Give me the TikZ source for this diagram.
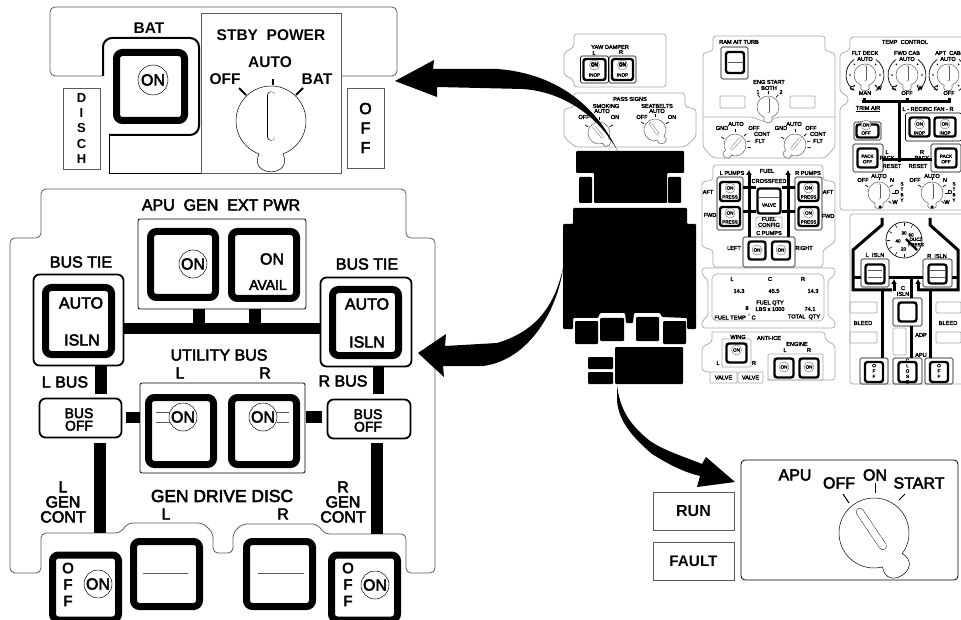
\documentclass[tikz,border=0pt]{standalone}
\usepackage{fontspec}
\setmainfont{Liberation Sans}
\newfontfamily\seminegra{Liberation Sans}[FakeBold=3]
\usetikzlibrary{arrows.meta}
\definecolor{grisPanel}{HTML}{A8A8A8}
\definecolor{grisLinea}{HTML}{5A5A5A}
\colorlet{colNegro}{black}
\newcommand{\perilla}[5][colNegro]{%
  \begin{scope}[shift={(#2,#3)},x=1pt,y=1pt,rotate=#5-90]
    \pgfmathsetmacro{\anchoP}{0.2*#4}
    \draw[#1,line width=0.5pt,fill=white] (-70:#4) arc[start angle=-70,end angle=250,radius=#4]
      .. controls (-112:{1.75*#4}) and (-68:{1.75*#4}) .. cycle;
    \draw[#1,line width=\anchoP pt+0.8pt,line cap=round] (0,{0.73*#4}) -- (0,{-0.45*#4});
    \draw[white,line width=\anchoP pt,line cap=round] (0,{0.73*#4}) -- (0,{-0.45*#4});
  \end{scope}}
\newcommand{\perillaTemp}[2]{%
  \perilla[grisLinea]{#1}{#2}{11}{90}
  \begin{scope}[shift={(#1,#2)},x=1pt,y=1pt]
    \draw[line width=0.7pt] (125:19) arc[start angle=125,end angle=235,radius=19];
    \draw[line width=0.7pt] (55:19) arc[start angle=55,end angle=-55,radius=19];
    \foreach \a in {45,0,-45,135,180,225}{\fill (\a:15) circle (0.9);}
  \end{scope}}
\newcommand{\marcasPerilla}[3]{%
  \begin{scope}[shift={(#1,#2)},x=1pt,y=1pt]
    \foreach \a in {#3}{\draw[line width=0.7pt] (\a:12.5) -- (\a:16);}
  \end{scope}}
\tikzset{
  x=1pt, y=-1pt,
  rotulo/.style={inner sep=0pt, align=center, font=\fontsize{16}{15}\selectfont\seminegra},
  rotuloNegro/.style={inner sep=0pt, align=center, font=\fontsize{15.5}{15}\selectfont\bfseries},
  rotuloChico/.style={inner sep=0pt, align=center, font=\fontsize{5.6}{5.8}\selectfont\seminegra},
  rotuloMini/.style={inner sep=0pt, align=center, font=\fontsize{4.6}{5.4}\selectfont\seminegra},
  tam/.style 2 args={minimum width=#1pt, minimum height=#2pt},
  botonOn/.style={circle, draw, line width=0.5pt, fill=white, inner sep=0pt, minimum size=28pt,
    font=\fontsize{16}{16}\selectfont\seminegra},
  botonChico/.style={circle, draw=grisLinea, line width=0.35pt, fill=white, inner sep=0pt, minimum size=10pt,
    font=\fontsize{4.6}{5}\selectfont\seminegra},
  teclaGrande/.style={draw, line width=7pt, rounded corners=6pt, fill=white, inner sep=0pt},
  teclaChica/.style={draw, line width=2.4pt, rounded corners=2.5pt, fill=white, inner sep=0pt},
  cajaTecla/.style={draw, line width=1.8pt, rounded corners=6pt, fill=white, inner sep=0pt},
  cajaFina/.style={draw, line width=0.8pt, rounded corners=2pt, fill=white, inner sep=0pt},
  cajaChica/.style={draw, line width=0.6pt, rounded corners=1.5pt, fill=white, inner sep=0pt},
  cajaGris/.style={draw=grisPanel, line width=0.7pt, rounded corners=1pt, inner sep=0pt},
  perfil/.style={draw=grisLinea, line width=0.8pt, rounded corners=5pt},
  perfilGris/.style={draw=grisPanel, line width=0.7pt, rounded corners=3pt},
  barra/.style={line width=#1pt},
  barra/.default=11.5,
  ducto/.style={line width=3pt},
  flechaFuel/.style={-{Latex[length=5pt,width=6pt]}, line width=3pt},
  flechaGorda/.style={fill=black},
  marca/.style={line width=1.8pt},
  rayita/.style={draw=grisLinea, line width=0.5pt},
}
\begin{document}
\begin{tikzpicture}
  \useasboundingbox (0,0) rectangle (961,620);

  \draw[perfil] (102,76) -- (50,76) -- (50,7) -- (397,7) -- (397,76) -- (341,76);
  \draw[line width=0.8pt] (109,135) -- (109,173) -- (201,173);
  \node[draw=grisLinea, line width=0.8pt, fill=white, tam={140}{160}] (cajaStby) at (271,93) {};
  \draw[line width=2pt, rounded corners=9pt] (103,76) -- (103,38) -- (199,38) -- (199,135) -- (109,135);
  \node[teclaGrande, tam={68}{68}] (teclaBat) at (150.5,86.5) {};
  \node[botonOn, minimum size=30pt] (onBat) at (153,80) {ON};
  \node[draw=grisLinea, line width=0.8pt, tam={37}{81}, inner sep=0pt, align=center,
    font=\fontsize{13}{15.2}\selectfont\bfseries] (cajaDisch) at (81.5,128.5) {D\\I\\S\\C\\H};
  \node[draw=grisLinea, line width=0.8pt, tam={37}{80}, inner sep=0pt, align=center,
    font=\fontsize{16}{19.5}\selectfont\seminegra] (cajaOff) at (365.5,128) {O\\F\\F};
  \foreach \n/\x/\y/\t in {rBat/149/28/BAT, rStby/271/35/{STBY\ \ POWER}, rAuto/270/62/AUTO, rOff/225/79/OFF, rBatDos/317/79/BAT}{
    \node[rotuloNegro] (\n) at (\x,\y) {\t};}
  \coordinate (m1a) at (239,88); \coordinate (m1b) at (246,95);
  \coordinate (m2a) at (273,79); \coordinate (m2b) at (273,85);
  \coordinate (m3a) at (303,88); \coordinate (m3b) at (296,95);
  \draw[marca] (m1a) -- (m1b);
  \draw[marca] (m2a) -- (m2b);
  \draw[marca] (m3a) -- (m3b);
  \perilla{271}{121}{35}{90}

  \draw[perfil] (35,573) -- (10,573) -- (10,238) -- (41,238) -- (41,189) -- (406,189) -- (406,238) -- (435,238)
    -- (435,573) -- (406,573) -- (406,534) -- (325,534) -- (317,524) -- (242,524) -- (233,533) -- (233,553)
    -- (213,553) -- (213,533) -- (203,523) -- (128,523) -- (120,533) -- (41,533) -- (41,573) -- (35,573);

  \node[cajaFina, tam={168}{90}] (cajaApu) at (222,264) {};
  \node[teclaGrande, tam={65}{66}] (teclaApu) at (183,264.5) {};
  \node[teclaGrande, tam={65}{67}] (teclaExt) at (264,265) {};
  \node[botonOn] (onApu) at (193,264) {ON};
  \node[cajaTecla, tam={90}{91}] (cajaTieL) at (78.5,320) {};
  \node[cajaTecla, tam={91}{89}] (cajaTieR) at (366,322) {};
  \node[teclaGrande, tam={66}{67}] (teclaTieL) at (78.5,321) {};
  \node[teclaGrande, tam={66}{66}] (teclaTieR) at (365.5,322.5) {};
  \node[cajaTecla, tam={82}{39}] (busOffL) at (80.5,418) {};
  \node[cajaTecla, tam={83}{39}] (busOffR) at (369,419) {};
  \node[cajaFina, tam={165}{90}] (cajaUtil) at (222.5,428) {};
  \node[teclaGrande, tam={65}{67}] (teclaUtilL) at (181,431) {};
  \node[teclaGrande, tam={65}{67}] (teclaUtilR) at (264,431) {};
  \foreach \n/\x in {rayaUa/412, rayaUb/422}{
    \coordinate (\n L) at (156,\x); \coordinate (\n Lf) at (170,\x);
    \coordinate (\n R) at (277,\x); \coordinate (\n Rf) at (289,\x);
    \draw[rayita] (\n L) -- (\n Lf);
    \draw[rayita] (\n R) -- (\n Rf);}
  \node[botonOn] (onUtilL) at (183,417) {ON};
  \node[botonOn] (onUtilR) at (263,417) {ON};
  \node[teclaGrande, tam={66}{65}] (teclaCtlL) at (85.5,587.5) {};
  \node[teclaGrande, tam={66}{65}] (teclaDiscL) at (166.5,574) {};
  \node[teclaGrande, tam={66}{65}] (teclaDiscR) at (279.5,574) {};
  \node[teclaGrande, tam={66}{65}] (teclaCtlR) at (364.5,587.5) {};
  \foreach \n/\a/\b in {rayaDl/143/188, rayaDr/258/304}{
    \coordinate (\n a) at (\a,573); \coordinate (\n b) at (\b,573);
    \draw[rayita] (\n a) -- (\n b);}
  \node[botonOn] (onCtlL) at (98,584) {ON};
  \node[botonOn] (onCtlR) at (375,585) {ON};

  \foreach \n/\x/\y in {bTieL/124/328.5, bTieR/320/328.5, sA/199/309, sAf/199/323, sB/255/309, sBf/255/323,
      sC/101/366, sCf/101/394, sD/378.5/367, sDf/378.5/394, sE/100/443, sEf/100/533, sF/377/443, sFf/377/534,
      sG/126/417.5, sGf/140/417.5, sH/306/417, sHf/322/417}{
    \coordinate (\n) at (\x,\y);}
  \draw[barra] (bTieL) -- (bTieR);
  \draw[barra] (sA) -- (sAf);
  \draw[barra] (sB) -- (sBf);
  \draw[barra] (sC) -- (sCf);
  \draw[barra] (sD) -- (sDf);
  \draw[barra] (sE) -- (sEf);
  \draw[barra] (sF) -- (sFf);
  \draw[barra] (sG) -- (sGf);
  \draw[barra] (sH) -- (sHf);

  \foreach \n/\x/\y/\t in {rApu/221/205/{APU\ \ GEN\ \ EXT PWR}, rTieL/81/262/{BUS TIE}, rTieR/367/264/{BUS TIE},
      rAutoL/81/303/AUTO, rIslnL/82/340/ISLN, rAutoR/367/304/AUTO, rIslnR/367/342/ISLN, rOnExt/272/259/ON,
      rUtil/219/355/{UTILITY BUS}, rUl/180/373/L, rUr/265/373/R, rBusL/65/382/{L BUS}, rBusR/343/381/{R BUS},
      rGenL/63/502/{L\\GEN\\CONT}, rGenR/343/502/{R\\GEN\\CONT}, rDl/166/514/L, rDr/283/514/R}{
    \node[rotulo] (\n) at (\x,\y) {\t};}
  \node[rotulo, font=\fontsize{17.4}{15}\selectfont\seminegra] (rDrive) at (222,496) {GEN DRIVE DISC};
  \foreach \n/\x/\y/\t in {rAvail/268/285/AVAIL, rOffL/79/419.5/{BUS\\OFF}, rOffR/368/420.5/{BUS\\OFF}}{
    \node[rotulo, font=\fontsize{14}{12.5}\selectfont\seminegra] (\n) at (\x,\y) {\t};}
  \foreach \n/\x/\y in {rOfL/68/584.5, rOfR/348/584.5}{
    \node[rotulo, font=\fontsize{15}{16.5}\selectfont\seminegra] (\n) at (\x,\y) {O\\F\\F};}

  \node[draw, line width=0.8pt, rounded corners=4pt, tam={217}{120}] (cajaApuStart) at (849.5,520) {};
  \node[draw=grisLinea, line width=0.8pt, tam={81}{38}, inner sep=0pt, font=\fontsize{16}{16}\selectfont\bfseries] (cajaRun) at (693.5,511) {RUN};
  \node[draw=grisLinea, line width=0.8pt, tam={81}{38}, inner sep=0pt, font=\fontsize{15.3}{16}\selectfont\bfseries] (cajaFault) at (693.5,561) {FAULT};
  \foreach \n/\x/\y/\t in {rApuS/795/475/APU, rOffS/839/483/OFF, rOnS/875/475/ON, rStart/919/483/START}{
    \node[rotulo] (\n) at (\x,\y) {\t};}
  \coordinate (m4a) at (843,494); \coordinate (m4b) at (849,503);
  \coordinate (m5a) at (875,483); \coordinate (m5b) at (875,493);
  \coordinate (m6a) at (905,494); \coordinate (m6b) at (899,500);
  \draw[line width=1pt] (m4a) -- (m4b);
  \draw[line width=1pt] (m5a) -- (m5b);
  \draw[line width=1pt] (m6a) -- (m6b);
  \perilla{874}{533}{35}{124}

  \begin{scope}[rounded corners=1pt]
    \fill (576,151) -- (684,151) -- (684,173) -- (667,173) -- (667,203) -- (594,203) -- (594,173) -- (576,173) -- cycle;
    \fill (579,177) rectangle (592,203);
    \fill (668,177) rectangle (681,203);
    \fill (573,208) -- (687,208) -- (687,224) -- (696,224) -- (696,329) -- (687,329) -- (687,318) -- (662,317) -- (660,313)
      -- (634,313) -- (633,323) -- (626,323) -- (625,313) -- (600,313) -- (598,318) -- (573,318) -- (573,329) -- (563,329)
      -- (563,224) -- (573,224) -- cycle;
    \fill (575,321) rectangle (598,344);
    \fill (600,318) rectangle (624,341);
    \fill (636,317) rectangle (659,341);
    \fill (663,321) rectangle (686,344);
    \fill (615,347) rectangle (683,384);
    \fill (588,357) rectangle (613,369);
    \fill (588,372) rectangle (613,384);
  \end{scope}

  \draw[perfilGris] (574,34) -- (666,34) -- (666,87) -- (574,87) -- (574,80) -- (564,75) -- (564,53) -- (574,47) -- cycle;
  \draw[perfilGris] (574,93) -- (685,93) -- (685,107) -- (696,109) -- (696,137) -- (685,147) -- (575,147) -- (564,137) -- (564,109) -- (574,107) -- cycle;
  \draw[perfilGris] (713,36) -- (825,36) -- (825,51) -- (835,53) -- (835,147) -- (825,158) -- (713,158) -- (703,147) -- (703,53) -- (713,51) -- cycle;
  \draw[perfilGris] (703,117) -- (752,117) -- (765,122) -- (778,117) -- (835,117);
  \draw[perfilGris] (713,165) -- (823,165) -- (823,180) -- (835,182) -- (835,242) -- (823,250) -- (823,267) -- (713,267) -- (713,250) -- (702,247) -- (702,182) -- (713,180) -- cycle;
  \draw[perfilGris] (702,268) -- (835,268) -- (835,275) -- (828,280) -- (828,316) -- (835,321) -- (835,328) -- (702,328) -- (702,321) -- (708,316) -- (708,280) -- (702,275) -- cycle;
  \draw[perfilGris] (712,332) -- (825,332) -- (825,340) -- (835,345) -- (835,380) -- (767,380);
  \draw[perfilGris] (712,332) -- (712,342) -- (702,347) -- (702,371) -- (710,372);
  \draw[perfilGris] (961,37) -- (850,37) -- (850,50) -- (840,54) -- (840,92) -- (848,96) -- (848,103) -- (840,107) -- (840,210) -- (961,210);
  \draw[perfilGris] (961,214) -- (850,214) -- (850,384) -- (961,384);

  \node[cajaGris, tam={25}{12}] (gRamL) at (732.5,102) {};
  \node[cajaGris, tam={25}{12}] (gRamR) at (802.5,102) {};
  \node[cajaGris, tam={26}{11}] (gFuel) at (769,222.5) {};
  \node[cajaGris, tam={112}{47}, rounded corners=5pt] (gQty) at (768,297.5) {};
  \node[cajaGris, tam={29}{28}] (gWing) at (736.5,353) {};
  \node[cajaGris, tam={55}{26}] (gEng) at (795.5,367) {};
  \node[cajaGris, tam={27}{11}] (gValL) at (723.5,377.5) {};
  \node[cajaGris, tam={25}{11}] (gValR) at (750.5,377.5) {};
  \node[cajaGris, tam={27}{11}] (gBlA) at (863.5,307.5) {};
  \node[cajaGris, tam={27}{11}] (gBlB) at (863.5,337.5) {};
  \node[cajaGris, tam={25}{11}] (gBlC) at (948.5,307.5) {};
  \node[cajaGris, tam={25}{11}] (gBlD) at (948.5,337.5) {};
  \node[cajaGris, tam={13}{27}] (gAdp) at (899.5,341.5) {};

  \foreach \n/\x/\y/\w/\h in {cYawL/594.5/69.5/28/27, cYawR/622.5/69.5/27/27, cRam/734.5/63/27/32, cPumpL/730/203.5/26/53,
      cPumpR/808.5/203.5/27/53, cCp/769/252/52/30, cTrim/867.5/131/27/18, cRec/933.5/127/56/28, cPackL/868/158/30/28,
      cPackR/946/158/30/28, cIsL/875/273/28/28, cIsR/937.5/273/29/28, cIsC/907.5/312/29/28, cBlL/874/371/28/26,
      cBlC/907.5/371/29/26, cBlR/939/371/28/26}{
    \node[cajaChica, tam={\w}{\h}] (\n) at (\x,\y) {};}
  \foreach \n/\x/\y/\w/\h in {tYawL/594.5/69.5/22/21, tYawR/622.5/69.5/21/21, tRam/735/62.5/18/21, tPumpLa/730/191.5/20/19,
      tPumpLb/730/216.5/20/19, tPumpRa/808.5/191.5/20/19, tPumpRb/808.5/216.5/20/19, tValve/769/201/23/25,
      tCpL/757/250.5/17/18, tCpR/781/250.5/18/18, tWing/736.5/353/20/19, tEngL/784/368/19/19, tEngR/809/368/19/19,
      tTrim/867.5/131/22/13, tRecL/919.5/127/20/19, tRecR/945/127/21/19, tPackL/867.5/158/20/19, tPackR/946/158/21/19,
      tIsL/875/274/19/19, tIsR/937.5/274/18/19, tIsC/907.5/312/18/19, tBlL/874/372/18/20, tBlC/907.5/372/18/20, tBlR/939/372/18/20}{
    \node[teclaChica, tam={\w}{\h}] (\n) at (\x,\y) {};}
  \foreach \n/\a/\b/\y in {rRam/728/743/62, rVal/759/779/197, rIsL/868/882/270, rIsLb/868/882/277, rIsR/930/945/270, rIsRb/930/945/277}{
    \coordinate (\n a) at (\a,\y); \coordinate (\n b) at (\b,\y);
    \draw[rayita] (\n a) -- (\n b);}

  \foreach \n/\x/\y in {bFa/749/237, bFb/749/170, bFc/788/237, bFd/788/170, bFe/743/188, bFf/756/188, bFg/743/212, bFh/756/212,
      bFi/782/188, bFj/795/188, bFk/782/212, bFl/795/212, dTa/862/102, dTb/951/102, dTc/899/102, dTd/899/162, dTe/882/160, dTf/932/160,
      dTg/864/98, dTh/864/102, dTi/907/98, dTj/907/102, dTk/949/98, dTl/949/102,
      dBa/882/218, dBb/930/218, dBc/892/290, dBd/918/290, dBe/889/278, dBf/923/278, dBg/853/278, dBh/861/278, dBi/952/278, dBj/958/278,
      dBk/882/291, dBl/882/358, dBm/930/291, dBn/930/358, dBo/911/278, dBp/911/298, dBq/911/326, dBr/911/358,
      dBs/894/291, dBt/894/279, dBu/918/291, dBv/918/279}{
    \coordinate (\n) at (\x,\y);}
  \draw[flechaFuel] (bFa) -- (bFb);
  \draw[flechaFuel] (bFc) -- (bFd);
  \draw[ducto] (bFe) -- (bFf);
  \draw[ducto] (bFg) -- (bFh);
  \draw[ducto] (bFi) -- (bFj);
  \draw[ducto] (bFk) -- (bFl);
  \draw[ducto] (dTa) -- (dTb);
  \draw[ducto] (dTc) -- (dTd);
  \draw[ducto] (dTe) -- (dTf);
  \draw[ducto] (dTg) -- (dTh);
  \draw[ducto] (dTi) -- (dTj);
  \draw[ducto] (dTk) -- (dTl);
  \draw[ducto] (dBa) -- ++(0,7) -- (853,250) -- (853,290) -- (dBc);
  \draw[ducto] (dBb) -- ++(0,7) -- (958,250) -- (958,290) -- (dBd);
  \draw[ducto] (dBe) -- (dBf);
  \draw[ducto] (dBg) -- (dBh);
  \draw[ducto] (dBi) -- (dBj);
  \draw[ducto] (dBk) -- (dBl);
  \draw[ducto] (dBm) -- (dBn);
  \draw[ducto] (dBo) -- (dBp);
  \draw[ducto] (dBq) -- (dBr);
  \draw[flechaFuel] (dBs) -- (dBt);
  \draw[flechaFuel] (dBu) -- (dBv);

  \foreach \n/\x/\y in {oYawL/594.5/65, oYawR/622.5/65, oPa/730/188, oPb/730/213, oPc/808.5/188, oPd/808.5/213, oCpL/757/250, oCpR/781/250,
      oWing/736.5/350, oEngL/784/367, oEngR/809/367, oTrim/866/125, oRecL/919.5/124, oRecR/945/124}{
    \node[botonChico] (\n) at (\x,\y) {ON};}

  \perilla[grisLinea]{599}{133}{11}{130}
  \perilla[grisLinea]{655}{130}{11}{125}
  \perilla[grisLinea]{768}{107}{11}{90}
  \perilla[grisLinea]{735}{145}{11}{50}
  \perilla[grisLinea]{795}{145}{11}{50}
  \marcasPerilla{599}{133}{150,90,30}
  \marcasPerilla{655}{130}{150,90,30}
  \marcasPerilla{768}{107}{130,90,50}
  \marcasPerilla{735}{145}{150,90,45,15,-10}
  \marcasPerilla{795}{145}{150,90,45,15,-10}
  \perillaTemp{865}{75}
  \perillaTemp{907}{75}
  \perillaTemp{948}{75}
  \perilla[grisLinea]{879}{193}{11}{90}
  \perilla[grisLinea]{932}{193}{11}{90}
  \marcasPerilla{879}{193}{150,90,30,0,-40}
  \marcasPerilla{932}{193}{150,90,30,0,-40}
  \foreach \n/\x in {pA/880, pB/932}{
    \node[circle, fill, inner sep=0pt, minimum size=3.5pt] (\n) at (\x,207) {};}

  \node[circle, draw, line width=0.7pt, fill=white, inner sep=0pt, minimum size=36pt] (cajaDuct) at (904,240) {};
  \begin{scope}[shift={(904,240)},x=1pt,y=1pt]
    \foreach \a in {60,90,120,150,180,210,240,270,0}{\draw[line width=0.5pt] (\a:14) -- (\a:17);}
  \end{scope}
  \coordinate (agujaA) at (906,239); \coordinate (agujaB) at (917,250);
  \draw[line width=2.4pt] (agujaA) -- (agujaB);

  \foreach \n/\x/\y/\t in {tYaw/610/47/{YAW DAMPER}, tYl/594/53/L, tYr/621/52/R, tPass/630/99/{PASS SIGNS}, tSmk/606/106/SMOKING,
      tSa/602/111/AUTO, tSo/584/117/OFF, tSn/615/117/ON, tSeat/657/106/SEATBELTS, tTa/657/111/AUTO, tTo/642/117/OFF, tTn/672/117/ON,
      tRamA/739/42/{RAM AIT TURB}, tEng/769/82/{ENG START}, tBoth/769/88/BOTH, tUno/758/92/1, tDos/781/92/2,
      tGa/722/128/GND, tAa/736/124/AUTO, tOa/754/128/OFF, tCa/762/134/CONT, tFa/760/141/FLT,
      tGb/781/128/GND, tAb/794/124/AUTO, tOb/811/128/OFF, tCb/818/134/CONT, tFb/818/141/FLT,
      tFuel/767/171/FUEL, tLp/732/173/{L PUMPS}, tRp/808/173/{R PUMPS}, tAf/708/192/AFT, tFw/710/215/FWD, tAg/828/192/AFT, tFx/828/216/FWD,
      tCross/769/181/CROSSFEED, tCp/769/233/{C PUMPS}, tLe/734/248/LEFT, tRi/804/248/RIGHT, tFc/769/222/{FUEL\\CONFIG},
      tQl/732/279/L, tQc/770/279/C, tQr/803/279/R, tQa/739/291/{14.3}, tQb/774/291/{45.5}, tQd/813/291/{14.3},
      tQe/770/303/{FUEL QTY}, tQf/770/309/{LBS x 1000}, tQg/747/308/8, tQh/810/309/{74.1}, tQi/735/317/{FUEL TEMP $^{\circ}$C}, tQj/804/317/{TOTAL\ \ QTY},
      tWi/738/337/WING, tAi/769/338/ANTI-ICE, tEn/797/344/ENGINE, tEl/785/350/L, tEr/809/350/R, tWl/718/363/L, tWr/754/363/R,
      tVa/723.5/377.5/VALVE, tVb/750.5/377.5/VALVE, tTemp/905/42/{TEMP\ \ CONTROL},
      tFd/865/53/{FLT DECK}, tFda/865/59/AUTO, tCab/907/53/{FWD CAB}, tCaba/907/59/AUTO, tApt/948/53/{APT\ \ CAB}, tApta/948/59/AUTO,
      tCx/852/88/C, tWx/879/88/W, tCy/894/88/C, tWy/920/88/W, tCz/936/88/C, tMan/865/93/MAN, tOff/907/93/OFF, tOffb/949/93/OFF,
      tTrimA/868/109/{\underline{TRIM AIR}}, tRec/928/109/{L - RECIRC FAN - R}, tLpk/887/155/{L\\PACK}, tRpk/922/155/{R\\PACK}, tRsa/892/166/RESET, tRsb/918/166/RESET,
      tOfa/863/180/OFF, tAua/879/176/AUTO, tNa/892/180/N, tDa/897/192/D, tWa/895/202/W,
      tOfb/915/180/OFF, tAub/932/176/AUTO, tNb/945/180/N, tDb/950/192/D, tWb/947/202/W,
      tIl/875/255/{L\ \ ISLN}, tIr/937/256/{R\ \ ISLN}, tIc/903/291/{C\\ISLN}, tBa/863/323/BLEED, tBb/948/323/BLEED, tAd/921/335/ADP, tAp/921/355/APU}{
    \node[rotuloChico] (\n) at (\x,\y) {\t};}
  \foreach \n/\x/\y/\t in {uYa/594.5/64/ON, uYb/594.5/75/INOP, uYc/622.5/64/ON, uYd/622.5/75/INOP, uPa/730/197/PRESS, uPb/730/222/PRESS, uPc/808.5/197/PRESS, uPd/808.5/222/PRESS,
      uVal/769/205/VALVE, uTo/866/133/OFF, uRa/919.5/133/INOP, uRb/945/133/INOP, uPl/867.5/159/{PACK\\OFF}, uPr/946/159/{PACK\\OFF},
      uSa/902/192/{S\\T\\B\\Y}, uSb/954/192/{S\\T\\B\\Y}, uBa/874/371/{O\\F\\F}, uBb/907.5/371/{C\\L\\O\\S\\E}, uBc/939/371/{O\\F\\F},
      uG3/904/233/30, uG4/898/241/40, uG2/903.5/249/20, uG6/911/235/60, uDu/916/242/{DUCT\\PRESS}}{
    \node[rotuloMini] (\n) at (\x,\y) {\t};}

  \fill[flechaGorda] (395,81) -- (434,60) -- (433,69) -- (497,69) .. controls (540,72) and (590,92) .. (618,152)
    .. controls (600,118) and (565,92) .. (523,89) -- (437,87) -- (437,97) -- cycle;
  \fill[flechaGorda] (418,353) -- (446,334) -- (445,346) -- (497,343) .. controls (530,333) and (553,313) .. (563,268)
    .. controls (558,308) and (530,360) .. (483,366) -- (443,366) -- (444,377) -- cycle;
  \fill[flechaGorda] (617,385) .. controls (620,410) and (630,425) .. (650,441) .. controls (665,451) and (685,457) .. (702,464)
    -- (706,457) -- (735,482) -- (697,487) -- (700,476) .. controls (680,471) and (665,462) .. (652,454)
    .. controls (632,437) and (618,420) .. (617,400) -- cycle;
\end{tikzpicture}
\end{document}
